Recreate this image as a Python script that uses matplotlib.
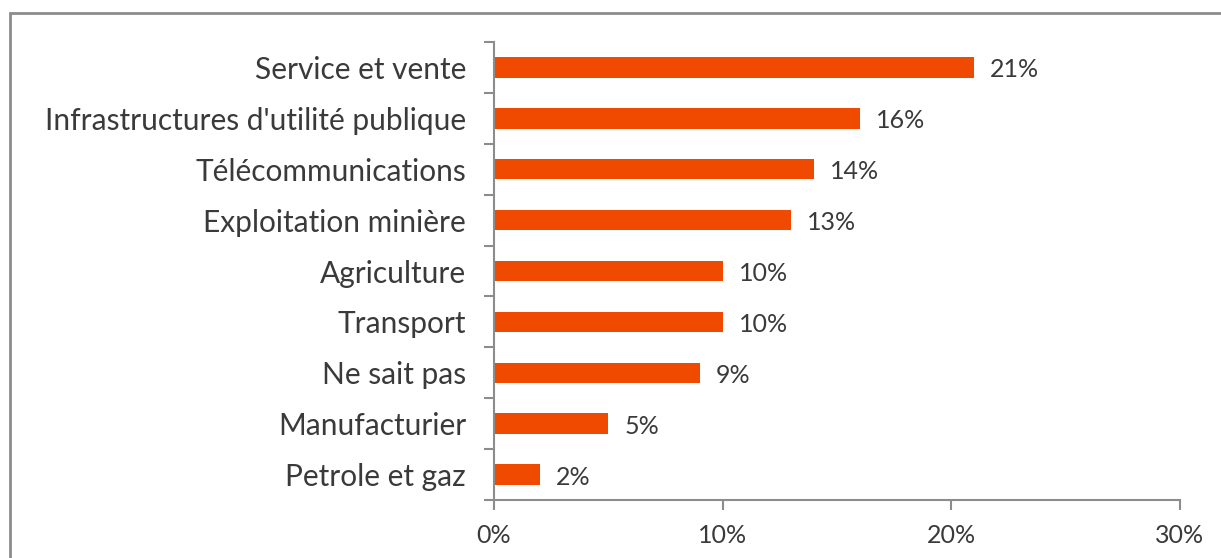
import matplotlib
matplotlib.use("Agg")
import matplotlib.pyplot as plt
from matplotlib.patches import Rectangle
from matplotlib.ticker import FuncFormatter

# Data (top to bottom as shown)
categories = [
    "Service et vente",
    "Infrastructures d'utilité publique",
    "Télécommunications",
    "Exploitation minière",
    "Agriculture",
    "Transport",
    "Ne sait pas",
    "Manufacturier",
    "Petrole et gaz",
]
values = [21, 16, 14, 13, 10, 10, 9, 5, 2]
xticks = [0, 10, 20, 30]

bar_color = "#F04A00"
text_color = "#3A3A3A"
axis_color = "#8C8C8C"

plt.rcParams["font.family"] = ["Lato", "DejaVu Sans"]

fig = plt.figure(figsize=(12.21, 5.58), dpi=100)
ax = fig.add_axes([494 / 1221, 1 - 500 / 558, (1180 - 494) / 1221, (500 - 42) / 558])

n = len(categories)
ypos = list(range(n))[::-1]
ax.barh(ypos, values, height=0.4, color=bar_color)

for y, v in zip(ypos, values):
    ax.text(v + 0.7, y - 0.05, f"{v}%", va="center", ha="left",
            fontsize=18, color=text_color)

ax.set_xlim(0, 30)
ax.set_ylim(-0.5, n - 0.5)
ax.set_xticks(xticks)
ax.xaxis.set_major_formatter(FuncFormatter(lambda x, p: f"{x:.0f}%"))

# category labels at centres, ticks at boundaries
ax.set_yticks(ypos)
ax.set_yticklabels(categories)
ax.set_yticks([i - 0.5 for i in range(n + 1)], minor=True)
ax.tick_params(axis="y", which="major", length=0, pad=20,
               labelsize=21.5, labelcolor=text_color)
ax.tick_params(axis="y", which="minor", length=7, width=1.5,
               color=axis_color, direction="out")
ax.tick_params(axis="x", length=7, width=1.5, color=axis_color,
               labelsize=18, labelcolor=text_color, pad=10)

for s in ["top", "right"]:
    ax.spines[s].set_visible(False)
for s in ["left", "bottom"]:
    ax.spines[s].set_color(axis_color)
    ax.spines[s].set_linewidth(1.5)

# outer frame, cut off at the right and bottom edges
fig.patches.append(Rectangle((10 / 1221, -0.1), 1.2, 1 - 13 / 558 + 0.1,
                             transform=fig.transFigure, fill=False,
                             edgecolor="#8C8C8C", linewidth=2))

fig.savefig("out.png", dpi=100)
